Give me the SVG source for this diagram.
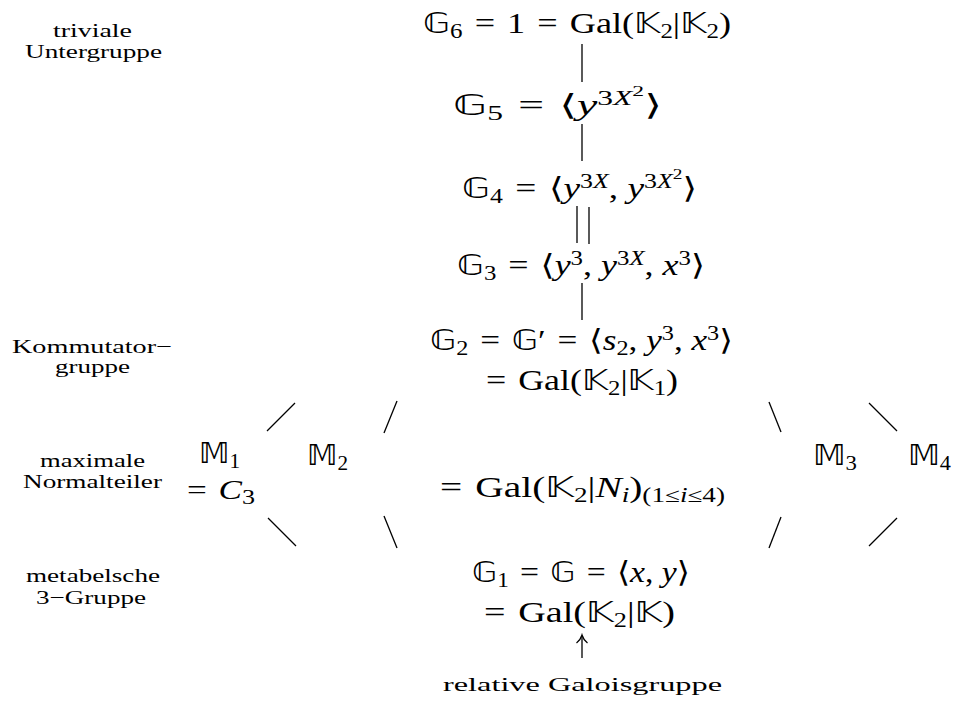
<svg xmlns="http://www.w3.org/2000/svg" width="955" height="704" viewBox="0 0 955 704">
<style>
.m { font-family: "Liberation Serif", "DejaVu Serif", serif; font-size: 29px; fill: #000; }
.ms { font-size: 27px; }
.bb { font-family: "DejaVu Sans", "DejaVu Serif", sans-serif; font-size: 28px; }
.i { font-style: italic; }
.sub { font-size: 20px; baseline-shift: -5px; }
.sup { font-size: 20px; baseline-shift: 10px; }
.sup2 { font-size: 15px; baseline-shift: 19px; }
.lab { font-family: "Liberation Serif", "DejaVu Serif", serif; font-size: 19px; fill: #000; }
.ln { stroke: #000; stroke-width: 1.3; fill: none; stroke-linecap: butt; }
</style>
<rect width="955" height="704" fill="#fff"/>

<g id="connectors">
  <line class="ln" x1="582" y1="44" x2="582" y2="82"/>
  <line class="ln" x1="582" y1="124" x2="582" y2="161"/>
  <line class="ln" x1="577" y1="206" x2="577" y2="243"/>
  <line class="ln" x1="589" y1="207" x2="589" y2="244"/>
  <line class="ln" x1="582" y1="283" x2="582" y2="320"/>
  <line class="ln" x1="267" y1="431" x2="295" y2="403"/>
  <line class="ln" x1="384" y1="433" x2="397" y2="401"/>
  <line class="ln" x1="769" y1="402" x2="781" y2="432"/>
  <line class="ln" x1="869" y1="403" x2="897" y2="431"/>
  <line class="ln" x1="268" y1="518" x2="296" y2="546"/>
  <line class="ln" x1="384" y1="516" x2="397" y2="548"/>
  <line class="ln" x1="769" y1="548" x2="781" y2="517"/>
  <line class="ln" x1="869" y1="546" x2="897" y2="518"/>
  <line class="ln" x1="582" y1="658" x2="582" y2="636"/>
  <path class="ln" d="M576.5,643 Q580.5,640 582,635 Q583.5,640 587.5,643"/>
</g>

<g id="g6">
  <text class="m" x="423" y="33" textLength="308" lengthAdjust="spacingAndGlyphs"><tspan class="bb">𝔾</tspan><tspan class="sub">6</tspan>&#8196;=&#8196;1&#8196;=&#8196;Gal(<tspan class="bb">𝕂</tspan><tspan class="sub">2</tspan>|<tspan class="bb">𝕂</tspan><tspan class="sub">2</tspan>)</text>
</g>
<g id="g5">
  <text class="m" x="453" y="115" textLength="209" lengthAdjust="spacingAndGlyphs"><tspan class="bb">𝔾</tspan><tspan class="sub">5</tspan>&#8196;=&#8196;⟨<tspan class="i">y</tspan><tspan class="sup">3</tspan><tspan class="sup i">X</tspan><tspan class="sup2">2</tspan>⟩</text>
</g>
<g id="g4">
  <text class="m" x="462" y="198" textLength="235" lengthAdjust="spacingAndGlyphs"><tspan class="bb">𝔾</tspan><tspan class="sub">4</tspan>&#8196;=&#8196;⟨<tspan class="i">y</tspan><tspan class="sup">3</tspan><tspan class="sup i">X</tspan>,&#8197;<tspan class="i">y</tspan><tspan class="sup">3</tspan><tspan class="sup i">X</tspan><tspan class="sup2">2</tspan>⟩</text>
</g>
<g id="g3">
  <text class="m" x="457" y="275" textLength="248" lengthAdjust="spacingAndGlyphs"><tspan class="bb">𝔾</tspan><tspan class="sub">3</tspan>&#8196;=&#8196;⟨<tspan class="i">y</tspan><tspan class="sup">3</tspan>,&#8197;<tspan class="i">y</tspan><tspan class="sup">3</tspan><tspan class="sup i">X</tspan>,&#8197;<tspan class="i">x</tspan><tspan class="sup">3</tspan>⟩</text>
</g>
<g id="g2">
  <text class="m" x="430" y="350" textLength="303" lengthAdjust="spacingAndGlyphs"><tspan class="bb">𝔾</tspan><tspan class="sub">2</tspan>&#8196;=&#8196;<tspan class="bb">𝔾</tspan>′&#8196;=&#8196;⟨<tspan class="i">s</tspan><tspan class="sub">2</tspan>,&#8197;<tspan class="i">y</tspan><tspan class="sup">3</tspan>,&#8197;<tspan class="i">x</tspan><tspan class="sup">3</tspan>⟩</text>
  <text class="m" x="486" y="390" textLength="192" lengthAdjust="spacingAndGlyphs">=&#8196;Gal(<tspan class="bb">𝕂</tspan><tspan class="sub">2</tspan>|<tspan class="bb">𝕂</tspan><tspan class="sub">1</tspan>)</text>
</g>
<g id="m1">
  <text class="m ms" x="199" y="463" textLength="41" lengthAdjust="spacingAndGlyphs"><tspan class="bb">𝕄</tspan><tspan class="sub">1</tspan></text>
  <text class="m ms" x="187" y="499" textLength="68" lengthAdjust="spacingAndGlyphs">=&#8196;<tspan class="i">C</tspan><tspan class="sub">3</tspan></text>
</g>
<g id="m2">
  <text class="m" x="307" y="465" textLength="41" lengthAdjust="spacingAndGlyphs"><tspan class="bb">𝕄</tspan><tspan class="sub">2</tspan></text>
</g>
<g id="m3">
  <text class="m" x="813" y="465" textLength="44" lengthAdjust="spacingAndGlyphs"><tspan class="bb">𝕄</tspan><tspan class="sub">3</tspan></text>
</g>
<g id="m4">
  <text class="m" x="908" y="465" textLength="43" lengthAdjust="spacingAndGlyphs"><tspan class="bb">𝕄</tspan><tspan class="sub">4</tspan></text>
</g>
<g id="gal-ni">
  <text class="m" x="440" y="497" textLength="285" lengthAdjust="spacingAndGlyphs">=&#8196;Gal(<tspan class="bb">𝕂</tspan><tspan class="sub">2</tspan>|<tspan class="i">N</tspan><tspan class="sub i">i</tspan>)<tspan class="sub">(1≤</tspan><tspan class="sub i">i</tspan><tspan class="sub">≤4)</tspan></text>
</g>
<g id="g1">
  <text class="m" x="472" y="582" textLength="218" lengthAdjust="spacingAndGlyphs"><tspan class="bb">𝔾</tspan><tspan class="sub">1</tspan>&#8196;=&#8196;<tspan class="bb">𝔾</tspan>&#8196;=&#8196;⟨<tspan class="i">x</tspan>,&#8197;<tspan class="i">y</tspan>⟩</text>
  <text class="m" x="484" y="622" textLength="191" lengthAdjust="spacingAndGlyphs">=&#8196;Gal(<tspan class="bb">𝕂</tspan><tspan class="sub">2</tspan>|<tspan class="bb">𝕂</tspan>)</text>
</g>
<g id="labels">
  <text class="lab" x="53" y="37" textLength="79" lengthAdjust="spacingAndGlyphs">triviale</text>
  <text class="lab" x="25" y="58" textLength="137" lengthAdjust="spacingAndGlyphs">Untergruppe</text>
  <text class="lab" x="12" y="353" textLength="160" lengthAdjust="spacingAndGlyphs">Kommutator−</text>
  <text class="lab" x="55" y="373" textLength="75" lengthAdjust="spacingAndGlyphs">gruppe</text>
  <text class="lab" x="40" y="467" textLength="105" lengthAdjust="spacingAndGlyphs">maximale</text>
  <text class="lab" x="23" y="488" textLength="139" lengthAdjust="spacingAndGlyphs">Normalteiler</text>
  <text class="lab" x="26" y="582" textLength="134" lengthAdjust="spacingAndGlyphs">metabelsche</text>
  <text class="lab" x="36" y="604" textLength="110" lengthAdjust="spacingAndGlyphs">3−Gruppe</text>
  <text class="lab" x="443" y="691" textLength="279" lengthAdjust="spacingAndGlyphs">relative Galoisgruppe</text>
</g>
</svg>
